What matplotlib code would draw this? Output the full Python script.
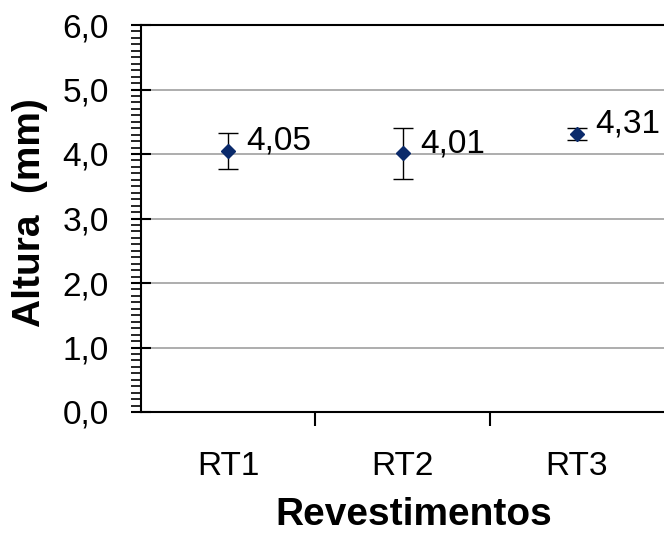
import matplotlib
matplotlib.use("Agg")
import matplotlib.pyplot as plt
from matplotlib.ticker import MultipleLocator, FuncFormatter

categories = ["RT1", "RT2", "RT3"]
heights = [4.05, 4.01, 4.31]
errors = [0.28, 0.39, 0.09]
value_labels = ["4,05", "4,01", "4,31"]

plt.rcParams["font.family"] = ["Liberation Sans", "DejaVu Sans"]

fig = plt.figure(figsize=(6.64, 5.33), dpi=100)
ax = fig.add_axes([141 / 664, 1 - 412 / 533, 1 - 141 / 664, (412 - 25) / 533])

x = list(range(1, len(categories) + 1))
ax.errorbar(x, heights, yerr=errors, fmt="none", ecolor="black",
            elinewidth=1.0, capsize=7.2, capthick=1.0, zorder=3)
ax.plot(x, heights, linestyle="none", marker="D", markersize=7.6,
        color="#0A2A6B", markeredgecolor="#0A2A6B", zorder=4)

for xi, yi, lab in zip(x, heights, value_labels):
    ax.annotate(lab, (xi, yi), xytext=(13, 7), textcoords="offset points",
                ha="left", va="center", fontsize=24, color="black",
                annotation_clip=False)

ax.set_xlim(0.5, 3.5)
ax.set_ylim(0, 6)

ax.yaxis.set_major_locator(MultipleLocator(1))
ax.yaxis.set_minor_locator(MultipleLocator(0.1))
ax.yaxis.set_major_formatter(FuncFormatter(lambda v, p: f"{v:.1f}".replace(".", ",")))
ax.tick_params(axis="y", which="major", direction="inout", length=14, width=1.5,
               labelsize=24, pad=16)
ax.tick_params(axis="y", which="minor", direction="out", length=7, width=1.2)

ax.set_xticks([1.5, 2.5], minor=False)
ax.set_xticklabels([])
ax.set_xticks(x, minor=True)
ax.set_xticklabels(categories, minor=True)
ax.tick_params(axis="x", which="major", direction="out", length=10, width=1.5)
ax.tick_params(axis="x", which="minor", length=0, labelsize=24, pad=28)

ax.grid(axis="y", which="major", color="#A0A0A0", linewidth=1.2, zorder=0)
ax.set_axisbelow(True)

for side in ["left", "bottom", "top"]:
    ax.spines[side].set_linewidth(1.5)
    ax.spines[side].set_color("black")
ax.spines["right"].set_visible(False)

fig.text(30 / 664, 1 - 213 / 533, "Altura  (mm)", rotation=90, ha="center",
         va="center", fontsize=28, fontweight="bold")
fig.text(414 / 664, 1 - 515 / 533, "Revestimentos", ha="center", va="center",
         fontsize=28, fontweight="bold")

fig.savefig("out.png", dpi=100)
